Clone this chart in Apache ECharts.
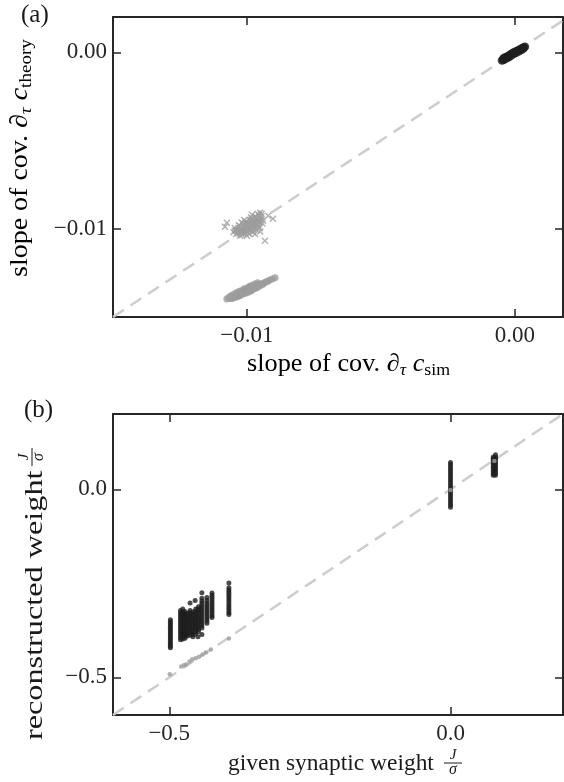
<!DOCTYPE html>
<html><head><meta charset="utf-8">
<script src="https://cdn.jsdelivr.net/npm/echarts@6/dist/echarts.min.js"></script>
<style>html,body{margin:0;padding:0;background:#fff}#c{width:564px;height:782px}</style>
</head><body><div id="c"></div>
<script>
const FONT = "'Liberation Serif', 'DejaVu Serif', serif";
const INK = '#262626';
const GREY = '#9c9c9c';
const BLACK = '#1e1e1e';

// ---------- panel (a) ----------
const aTicks = [-0.01, 0.0];
const aXRange = [-0.015, 0.0018];
const aYRange = [-0.015, 0.002];
const aIdentity = [-0.015, 0.002];
const aBlack = [[-0.00048,-0.00046],[-0.00044,-0.00038],[-0.00042,-0.00044],[-0.00038,-0.00030],[-0.00035,-0.00038],[-0.00030,-0.00028],[-0.00027,-0.00022],[-0.00024,-0.00030],[-0.00020,-0.00018],[-0.00017,-0.00012],[-0.00014,-0.00020],[-0.00010,-0.00008],[-0.00007,-0.00002],[-0.00004,-0.00010],[0.00000,0.00000],[0.00003,0.00005],[0.00006,-0.00002],[0.00010,0.00008],[0.00013,0.00012],[0.00016,0.00006],[0.00020,0.00016],[0.00023,0.00020],[0.00026,0.00014],[0.00030,0.00024],[0.00034,0.00028],[0.00038,0.00032],[-0.00040,-0.00034],[-0.00022,-0.00025],[-0.00002,-0.00006],[0.00018,0.00011],[0.00032,0.00022]];
const aGreyCross = [[-0.01050,-0.01020],[-0.01045,-0.00995],[-0.01040,-0.01030],[-0.01035,-0.01005],[-0.01030,-0.00980],[-0.01028,-0.01015],[-0.01022,-0.00995],[-0.01018,-0.01035],[-0.01015,-0.00970],[-0.01012,-0.01010],[-0.01008,-0.00985],[-0.01005,-0.01025],[-0.01002,-0.00960],[-0.00998,-0.01000],[-0.00995,-0.00975],[-0.00992,-0.01030],[-0.00990,-0.00950],[-0.00987,-0.01010],[-0.00983,-0.00985],[-0.00980,-0.00945],[-0.00978,-0.01020],[-0.00975,-0.00965],[-0.00972,-0.00995],[-0.00968,-0.00930],[-0.00965,-0.01005],[-0.00962,-0.00955],[-0.00958,-0.00980],[-0.00955,-0.00925],[-0.00952,-0.00995],[-0.00948,-0.00945],[-0.00945,-0.00915],[-0.00942,-0.00970],[-0.01025,-0.01040],[-0.01010,-0.00950],[-0.00985,-0.00935],[-0.00970,-0.01030],[-0.01000,-0.01040],[-0.01020,-0.00965],[-0.00960,-0.00915],[-0.00950,-0.01015],
  [-0.01040,-0.01010],[-0.01032,-0.00995],[-0.01025,-0.01020],[-0.01018,-0.01000],[-0.01012,-0.00985],[-0.01005,-0.01005],[-0.00998,-0.00985],[-0.00992,-0.00968],[-0.00988,-0.00995],[-0.00982,-0.00960],[-0.00976,-0.00980],[-0.00970,-0.00955],[-0.00964,-0.00975],[-0.00958,-0.00945],[-0.00952,-0.00960],[-0.01036,-0.01022],[-0.01016,-0.01025],[-0.00996,-0.01018],[-0.00976,-0.01005],[-0.00960,-0.00990],[-0.01026,-0.00985],[-0.01006,-0.00965],[-0.00986,-0.00950],[-0.00966,-0.00940],[-0.00946,-0.00930],[-0.01046,-0.01010],[-0.00994,-0.00992],[-0.00980,-0.00972],[-0.01020,-0.01010],[-0.00956,-0.00965],
  [-0.01082,-0.00989],[-0.01075,-0.00966],[-0.00981,-0.00920],[-0.00951,-0.00909],[-0.00921,-0.00926],[-0.00903,-0.00943],[-0.00933,-0.01068],[-0.00940,-0.00955]];
const aGreyDot = [[-0.01075,-0.01398],[-0.01068,-0.01390],[-0.01062,-0.01395],[-0.01058,-0.01384],[-0.01052,-0.01389],[-0.01048,-0.01378],[-0.01044,-0.01383],[-0.01040,-0.01372],[-0.01036,-0.01378],[-0.01032,-0.01366],[-0.01028,-0.01372],[-0.01024,-0.01362],[-0.01020,-0.01368],[-0.01016,-0.01356],[-0.01012,-0.01362],[-0.01008,-0.01350],[-0.01004,-0.01358],[-0.01000,-0.01345],[-0.00996,-0.01352],[-0.00992,-0.01340],[-0.00988,-0.01347],[-0.00984,-0.01335],[-0.00980,-0.01342],[-0.00976,-0.01330],[-0.00972,-0.01337],[-0.00968,-0.01325],[-0.00964,-0.01331],[-0.00960,-0.01320],[-0.00956,-0.01327],[-0.00952,-0.01316],[-0.00948,-0.01320],[-0.00944,-0.01310],[-0.00940,-0.01315],[-0.00934,-0.01305],[-0.00928,-0.01300],[-0.00922,-0.01297],[-0.00915,-0.01290],[-0.00905,-0.01285],[-0.00895,-0.01278],[-0.01010,-0.01345],[-0.00990,-0.01332],[-0.00970,-0.01322],[-0.01030,-0.01378],[-0.00985,-0.01352],
  [-0.01060,-0.01380],[-0.01050,-0.01372],[-0.01040,-0.01362],[-0.01030,-0.01356],[-0.01020,-0.01350],[-0.01010,-0.01340],[-0.01000,-0.01335],[-0.00990,-0.01326],[-0.00980,-0.01320],[-0.00970,-0.01313],[-0.00960,-0.01306],[-0.01055,-0.01395],[-0.01045,-0.01390],[-0.01035,-0.01385],[-0.01025,-0.01378],[-0.01015,-0.01370],[-0.01005,-0.01365],[-0.00995,-0.01360],[-0.00985,-0.01350],[-0.00975,-0.01342],[-0.00965,-0.01336]];

// ---------- panel (b) ----------
const bTicks = [-0.5, 0.0];
const bRange = [-0.6, 0.2];
const bIdentity = [-0.6, 0.2];
const bColX = [-0.498, -0.480, -0.476, -0.472, -0.468, -0.463, -0.458, -0.453, -0.448, -0.442, -0.433, -0.424, -0.394, 0.0, 0.076, 0.080];
const bColY = [
  [-0.347,-0.352,-0.357,-0.362,-0.367,-0.372,-0.377,-0.382,-0.387,-0.392,-0.397,-0.402,-0.407,-0.412,-0.417,-0.421],
  [-0.322,-0.328,-0.334,-0.340,-0.346,-0.352,-0.358,-0.364,-0.370,-0.376,-0.382,-0.388,-0.394,-0.400],
  [-0.318,-0.326,-0.332,-0.338,-0.344,-0.350,-0.356,-0.362,-0.368,-0.374,-0.380,-0.386,-0.392,-0.398],
  [-0.325,-0.331,-0.337,-0.343,-0.349,-0.355,-0.361,-0.367,-0.373,-0.379,-0.385,-0.391,-0.396],
  [-0.330,-0.336,-0.342,-0.348,-0.354,-0.360,-0.366,-0.372,-0.378,-0.384,-0.390],
  [-0.322,-0.328,-0.334,-0.340,-0.346,-0.352,-0.358,-0.364,-0.370,-0.376,-0.382,-0.388],
  [-0.326,-0.332,-0.338,-0.344,-0.350,-0.356,-0.362,-0.368,-0.374,-0.380,-0.386,-0.392],
  [-0.318,-0.324,-0.330,-0.336,-0.342,-0.348,-0.354,-0.360,-0.366,-0.372,-0.378,-0.384],
  [-0.312,-0.318,-0.324,-0.330,-0.336,-0.342,-0.348,-0.354,-0.360,-0.366,-0.372,-0.378],
  [-0.290,-0.297,-0.303,-0.309,-0.315,-0.321,-0.327,-0.333,-0.339,-0.345,-0.351,-0.357,-0.363,-0.369],
  [-0.296,-0.302,-0.308,-0.314,-0.320,-0.326,-0.332,-0.338,-0.344,-0.350,-0.356],
  [-0.276,-0.282,-0.288,-0.294,-0.300,-0.306,-0.312,-0.318,-0.324,-0.330,-0.336,-0.341],
  [-0.249,-0.262,-0.268,-0.274,-0.280,-0.286,-0.292,-0.298,-0.304,-0.310,-0.316,-0.322,-0.328,-0.333],
  [-0.048,-0.042,-0.036,-0.030,-0.024,-0.018,-0.012,-0.006,0.000,0.006,0.012,0.018,0.024,0.030,0.036,0.042,0.048,0.054,0.060,0.066,0.071],
  [0.037,0.042,0.047,0.052,0.057,0.062,0.067,0.072,0.077,0.082,0.086],
  [0.037,0.042,0.047,0.052,0.057,0.062,0.067,0.072,0.077,0.082,0.086,0.092]
];
const bOutliers = [[-0.463,-0.302],[-0.454,-0.296],[-0.442,-0.275],[-0.449,-0.392],[-0.442,-0.386],[-0.433,-0.288]];
const bGrey = [[-0.499,-0.492],[-0.479,-0.471],[-0.474,-0.468],[-0.470,-0.466],[-0.464,-0.458],[-0.459,-0.452],[-0.453,-0.449],[-0.447,-0.445],[-0.441,-0.439],[-0.435,-0.434],[-0.426,-0.426],[-0.394,-0.397],[0.0,-0.002],[0.078,0.075]];

const bBlack = [];
bColX.forEach((x, i) => bColY[i].forEach(y => bBlack.push([x, y])));
bOutliers.forEach(p => bBlack.push(p));

const fmtA = v => (v < 0 ? '\u2212' : '') + Math.abs(v).toFixed(2);
const fmtB = v => (v < 0 ? '\u2212' : '') + Math.abs(v).toFixed(1);

function mkAxis(kind, grid, pos, range, ticks, fmt) {
  const show = !!fmt;
  return {
    type: 'value', gridIndex: grid, position: pos, min: range[0], max: range[1],
    axisLine: { show: true, onZero: false, lineStyle: { color: INK, width: 2 } },
    axisTick: { show: true, inside: true, length: 8, customValues: ticks, lineStyle: { color: INK, width: 1.5 } },
    axisLabel: show ? { show: true, customValues: ticks, formatter: fmt, fontFamily: FONT, fontSize: 23, color: INK, margin: kind === 'x' ? 7 : 6 } : { show: false },
    splitLine: { show: false }
  };
}

const crossPath = 'path://M0,1.4L1.4,0L5,3.6L8.6,0L10,1.4L6.4,5L10,8.6L8.6,10L5,6.4L1.4,10L0,8.6L3.6,5Z';

function mkRich(size, sub) {
  return {
    t: { fontFamily: FONT, fontSize: size, color: '#1a1a1a', lineHeight: size + 6 },
    i: { fontFamily: FONT, fontSize: size, fontStyle: 'italic', color: '#1a1a1a', lineHeight: size + 6 },
    si: { fontFamily: FONT, fontSize: sub, fontStyle: 'italic', color: '#1a1a1a', lineHeight: sub, verticalAlign: 'bottom' },
    s: { fontFamily: FONT, fontSize: sub, color: '#1a1a1a', lineHeight: sub, verticalAlign: 'bottom' }
  };
}
const richA = mkRich(25, 17);

function fraction(cx, cy) {
  return [
    { type: 'text', x: cx, y: cy - 8, style: { text: 'J', fontFamily: FONT, fontSize: 15, fontStyle: 'italic', fill: '#1a1a1a', align: 'center', verticalAlign: 'middle' } },
    { type: 'line', shape: { x1: cx - 9, y1: cy, x2: cx + 9, y2: cy }, style: { stroke: '#1a1a1a', lineWidth: 1 } },
    { type: 'text', x: cx, y: cy + 7, style: { text: '\u03c3', fontFamily: FONT, fontSize: 16, fontStyle: 'italic', fill: '#1a1a1a', align: 'center', verticalAlign: 'middle' } }
  ];
}

const chart = echarts.init(document.getElementById('c'), null, { renderer: 'canvas' });
chart.setOption({
  animation: false,
  backgroundColor: '#fff',
  grid: [
    { left: 113, top: 17, width: 450, height: 300 },
    { left: 113, top: 414, width: 450, height: 301 }
  ],
  xAxis: [
    mkAxis('x', 0, 'bottom', aXRange, aTicks, fmtA),
    mkAxis('x', 0, 'top', aXRange, aTicks, null),
    mkAxis('x', 1, 'bottom', bRange, bTicks, fmtB),
    mkAxis('x', 1, 'top', bRange, bTicks, null)
  ],
  yAxis: [
    mkAxis('y', 0, 'left', aYRange, aTicks, fmtA),
    mkAxis('y', 0, 'right', aYRange, aTicks, null),
    mkAxis('y', 1, 'left', bRange, bTicks, fmtB),
    mkAxis('y', 1, 'right', bRange, bTicks, null)
  ],
  series: [
    { type: 'line', xAxisIndex: 0, yAxisIndex: 0, data: [[aIdentity[0], aIdentity[0]], [aIdentity[1], aIdentity[1]]], symbol: 'none', silent: true, z: 1,
      lineStyle: { color: '#cdcdcd', width: 2.5, type: [13, 8] } },
    { type: 'scatter', xAxisIndex: 0, yAxisIndex: 0, data: aGreyCross, symbol: crossPath, symbolSize: 7, itemStyle: { color: GREY }, z: 2 },
    { type: 'scatter', xAxisIndex: 0, yAxisIndex: 0, data: aGreyDot, symbolSize: 7, itemStyle: { color: GREY }, z: 2 },
    { type: 'scatter', xAxisIndex: 0, yAxisIndex: 0, data: aBlack, symbolSize: 8.5, itemStyle: { color: BLACK }, z: 3 },
    { type: 'line', xAxisIndex: 2, yAxisIndex: 2, data: [[bIdentity[0], bIdentity[0]], [bIdentity[1], bIdentity[1]]], symbol: 'none', silent: true, z: 1,
      lineStyle: { color: '#cdcdcd', width: 2.5, type: [13, 8] } },
    { type: 'scatter', xAxisIndex: 2, yAxisIndex: 2, data: bBlack, symbolSize: 5, itemStyle: { color: BLACK }, z: 2 },
    { type: 'scatter', xAxisIndex: 2, yAxisIndex: 2, data: bGrey, symbolSize: 4.5, itemStyle: { color: GREY }, z: 3 }
  ],
  graphic: [
    { type: 'text', left: 21, top: 3, style: { text: '(a)', fontFamily: FONT, fontSize: 25, fill: '#1a1a1a' } },
    { type: 'text', left: 24, top: 398, style: { text: '(b)', fontFamily: FONT, fontSize: 25, fill: '#1a1a1a' } },
    { type: 'group', x: 247, y: 364, scaleX: 1.05, children: [
      { type: 'text', x: 0, y: 0, style: { text: '{t|slope of cov. }{i|\u2202}{si|\u03c4}{i| c}{s|sim}', rich: richA, align: 'left', verticalAlign: 'middle' } }
    ] },
    { type: 'group', x: 20, y: 277, rotation: Math.PI / 2, scaleX: 1.12, children: [
      { type: 'text', x: 0, y: 0, style: { text: '{t|slope of cov. }{i|\u2202}{si|\u03c4}{i| c}{s|theory}', rich: richA, align: 'left', verticalAlign: 'middle' } }
    ] },
    { type: 'group', x: 228, y: 764, scaleX: 1.02, children: [
      { type: 'text', x: 0, y: 0, style: { text: 'given synaptic weight', fontFamily: FONT, fontSize: 23, fill: '#1a1a1a', align: 'left', verticalAlign: 'middle' } }
    ] },
    { type: 'group', x: 0, y: 0, children: fraction(453, 763) },
    { type: 'group', x: 35, y: 740, rotation: Math.PI / 2, scaleX: 1.24, children: [
      { type: 'text', x: 0, y: 0, style: { text: 'reconstructed weight', fontFamily: FONT, fontSize: 26, fill: '#1a1a1a', align: 'left', verticalAlign: 'middle' } }
    ] },
    { type: 'group', x: 35, y: 740, rotation: Math.PI / 2, children: fraction(283, -3) }
  ]
});
</script></body></html>
